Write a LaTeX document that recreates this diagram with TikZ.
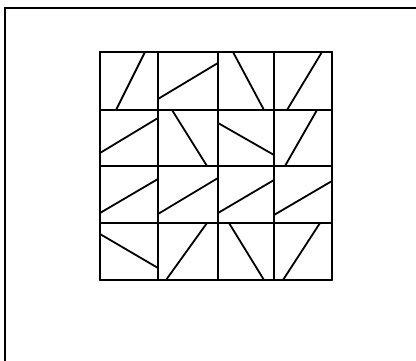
\documentclass[tikz,border=0pt]{standalone}
\begin{document}
\begin{tikzpicture}[x=1pt,y=-1pt,
  gridline/.style={line width=2pt,line cap=round,line join=round},
  diagline/.style={line width=1.8pt,line cap=round},
  framelineB/.style={line width=1.2pt}]
\useasboundingbox (0,0) rectangle (416,361);
% outer frame (top and left edges)
\draw[framelineB] (416,8) -- (5,8) -- (5,361);
% grid
\foreach \x in {100,158,218,274,332} \draw[gridline] (\x,52) -- (\x,280);
\foreach \y in {52,110,166,223,280} \draw[gridline] (100,\y) -- (332,\y);
% diagonals, row 1
\draw[diagline] (145,52) -- (116,110);
\draw[diagline] (158,99) -- (218,63);
\draw[diagline] (233,52) -- (264,110);
\draw[diagline] (322,52) -- (287,110);
% row 2
\draw[diagline] (100,153) -- (158,118);
\draw[diagline] (172,110) -- (207,166);
\draw[diagline] (218,123) -- (274,155);
\draw[diagline] (317,110) -- (285,166);
% row 3
\draw[diagline] (100,213) -- (158,179);
\draw[diagline] (158,214) -- (218,178);
\draw[diagline] (218,213) -- (274,180);
\draw[diagline] (274,215) -- (332,181);
% row 4
\draw[diagline] (100,234) -- (158,268);
\draw[diagline] (207,223) -- (166,280);
\draw[diagline] (229,223) -- (264,280);
\draw[diagline] (320,223) -- (283,280);
\end{tikzpicture}
\end{document}
